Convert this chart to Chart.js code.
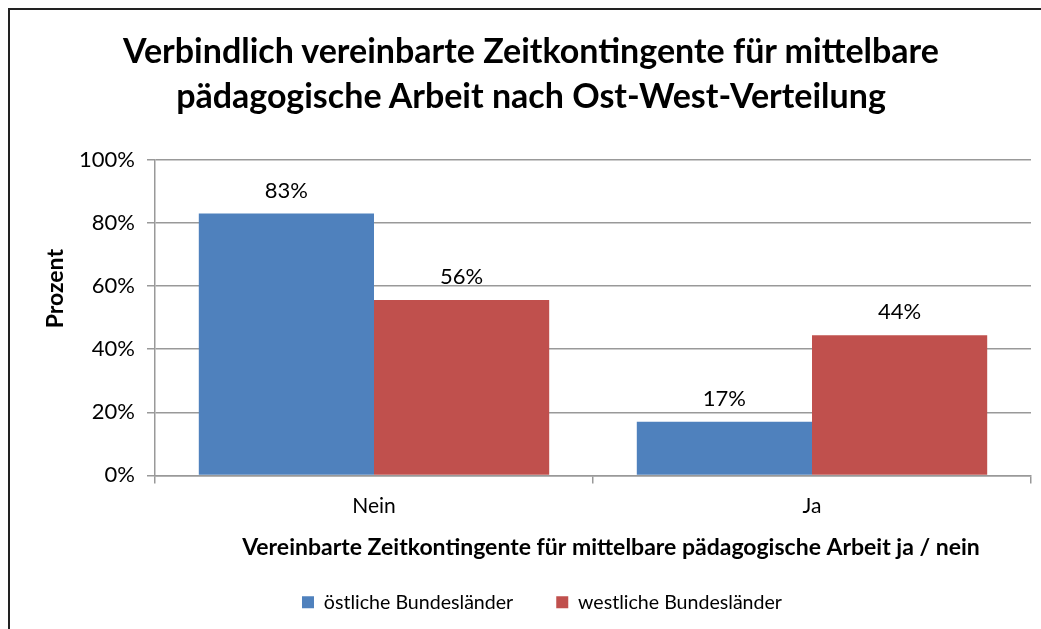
<!DOCTYPE html>
<html>
<head>
<meta charset="utf-8">
<script src="https://cdn.jsdelivr.net/npm/chart.js@4"></script>
<style>
  html, body { margin: 0; padding: 0; background: #fff; overflow: hidden; }
  #frame { position: absolute; left: 8px; top: 8px; width: 1200px; height: 700px;
           border-left: 2px solid #222; border-top: 2px solid #222; }
  #title { position: absolute; left: 0; top: 17px; width: 1042px; text-align: center;
           font-family: Lato, sans-serif; font-weight: bold; font-size: 34px; line-height: 45px; color: #000; }
  #chart { position: absolute; left: 0; top: 0; }
</style>
</head>
<body>
<div id="frame">
  <canvas id="chart" width="1064" height="620"></canvas>
  <div id="title">Verbindlich vereinbarte Zeitkontingente für mittelbare<br>pädagogische Arbeit nach Ost-West-Verteilung</div>
</div>
<script>
// data
const categories = ['Nein', 'Ja'];
const seriesNames = ['östliche Bundesländer', 'westliche Bundesländer'];
const ostValues = [83, 17];
const westValues = [55.6, 44.4];
const yTicks = [0, 20, 40, 60, 80, 100];

const FONT = 'Lato, sans-serif';
const blue = '#4F81BD';
const red = '#C0504D';
const gridColor = '#999999';

// labels above the bars
const barLabels = {
    id: 'barLabels',
    afterDatasetsDraw(chart) {
        const ctx = chart.ctx;
        ctx.save();
        ctx.font = '22px ' + FONT;
        ctx.fillStyle = '#000';
        ctx.textAlign = 'center';
        ctx.textBaseline = 'middle';
        chart.data.datasets.forEach((ds, i) => {
            chart.getDatasetMeta(i).data.forEach((bar, j) => {
                ctx.fillText(Math.round(ds.data[j]) + '%', bar.x, bar.y - 23);
            });
        });
        ctx.restore();
    }
};

// axis titles (Excel places them a bit off the plot centre)
const axisTitles = {
    id: 'axisTitles',
    afterDraw(chart) {
        const ctx = chart.ctx;
        const a = chart.chartArea;
        ctx.save();
        ctx.font = 'bold 23px ' + FONT;
        ctx.fillStyle = '#000';
        ctx.textAlign = 'center';
        ctx.textBaseline = 'middle';
        ctx.fillText('Vereinbarte Zeitkontingente für mittelbare pädagogische Arbeit ja / nein',
            (a.left + a.right) / 2 + 18, a.bottom + 72);
        ctx.translate(a.left - 99, (a.top + a.bottom) / 2 - 29);
        ctx.rotate(-Math.PI / 2);
        ctx.fillText('Prozent', 0, 0);
        ctx.restore();
    }
};

new Chart(document.getElementById('chart'), {
    type: 'bar',
    data: {
        labels: categories,
        datasets: [
            { label: seriesNames[0], data: ostValues, backgroundColor: blue },
            { label: seriesNames[1], data: westValues, backgroundColor: red }
        ]
    },
    options: {
        responsive: false,
        animation: false,
        layout: { padding: { top: 150, right: 0, left: 0, bottom: 8 } },
        datasets: { bar: { categoryPercentage: 0.8, barPercentage: 1.0 } },
        scales: {
            x: {
                grid: { drawOnChartArea: false, drawTicks: true, tickLength: 8, color: gridColor, lineWidth: 1.5 },
                border: { color: gridColor, width: 1.5 },
                ticks: { font: { family: FONT, size: 21 }, color: '#000', padding: 10 },
                afterFit(s) { s.height = 74; }
            },
            y: {
                min: 0,
                max: 100,
                afterBuildTicks(s) { s.ticks = yTicks.map(v => ({ value: v })); },
                grid: { color: gridColor, lineWidth: 1.5, tickLength: 8 },
                border: { color: gridColor, width: 1.5 },
                ticks: { font: { family: FONT, size: 22 }, color: '#000', padding: 12,
                         callback: v => v + '%' },
                afterFit(s) { s.width = 145; }
            },
            // empty right-hand spacer so the legend stays centred where Excel put it
            yRight: {
                position: 'right',
                display: true,
                grid: { display: false },
                border: { display: false },
                ticks: { display: false },
                afterFit(s) { s.width = 43; }
            }
        },
        plugins: {
            legend: {
                position: 'bottom',
                labels: { font: { family: FONT, size: 19.6 }, color: '#000', boxWidth: 12, boxHeight: 12, padding: 43 }
            },
            tooltip: { enabled: false }
        }
    },
    plugins: [barLabels, axisTitles]
});
</script>
</body>
</html>
